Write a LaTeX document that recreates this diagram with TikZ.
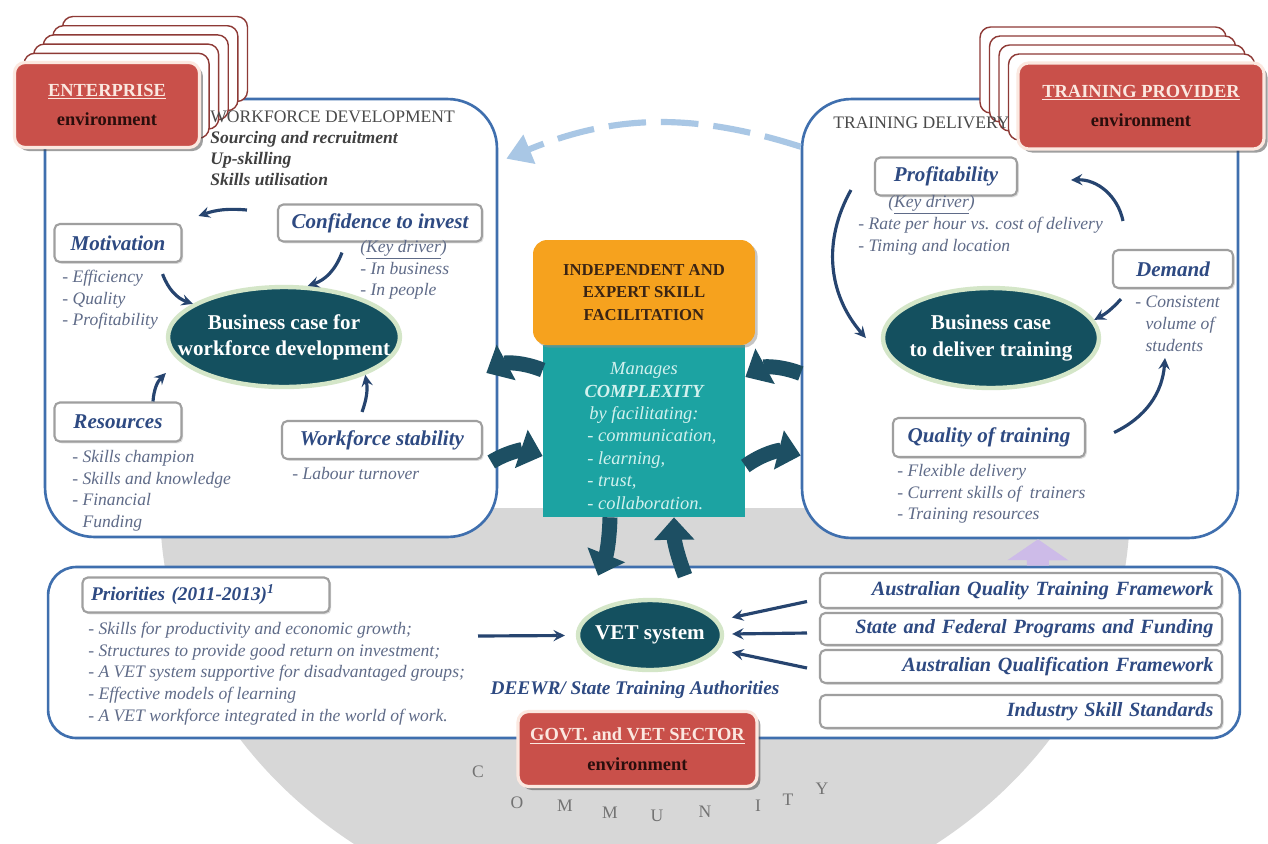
\documentclass[tikz,border=0pt]{standalone}
\usepackage{fontspec}
\setmainfont{Liberation Serif}
\usetikzlibrary{shapes,arrows,arrows.meta,positioning,shadows}

\definecolor{panelblue}{HTML}{3F6FAE}
\definecolor{boxblue}{HTML}{2E4A82}
\definecolor{notegrey}{HTML}{5F6B88}
\definecolor{flowblue}{HTML}{26446F}
\definecolor{casefill}{HTML}{14505F}
\definecolor{caseedge}{HTML}{D4E6C8}
\definecolor{envred}{HTML}{C9504A}
\definecolor{envrim}{HTML}{FBE8E0}
\definecolor{envdark}{HTML}{2A0E0C}
\definecolor{cardrim}{HTML}{8E3A36}
\definecolor{facilorange}{HTML}{F6A21E}
\definecolor{facildark}{HTML}{3A2414}
\definecolor{manageteal}{HTML}{1CA3A2}
\definecolor{managetext}{HTML}{D2F1EE}
\definecolor{bigteal}{HTML}{1D4F63}
\definecolor{commgrey}{HTML}{D7D7D7}
\definecolor{arcblue}{HTML}{A9C7E5}
\definecolor{lilac}{HTML}{CDBBE8}
\definecolor{headgrey}{HTML}{4A4A4A}

\newcommand{\fsz}[2]{\fontsize{#1}{#2}\selectfont}

\begin{document}
\begin{tikzpicture}[x=0.02cm, y=-0.02cm,
  panel/.style={draw=panelblue, fill=white, line width=1.5pt, rounded corners=28pt},
  factor/.style={draw=gray!75, fill=white, line width=1.2pt, rounded corners=3pt, text=boxblue,
    font=\bfseries\itshape\fsz{12}{14}, inner sep=2pt,
    drop shadow={shadow xshift=1pt, shadow yshift=-1pt, fill=black!25}},
  frame/.style={factor, font=\bfseries\itshape\fsz{11.5}{14}, minimum width=8.04cm, text width=7.7cm, align=right},
  note/.style={anchor=north west, align=left, text=notegrey, font=\itshape\fsz{10}{12.3}, inner sep=0pt},
  bcase/.style={ellipse, fill=casefill, draw=caseedge, line width=2.5pt, text=white,
    font=\bfseries\fsz{12}{15}, align=center, inner xsep=-0.7cm, inner ysep=-0.35cm},
  envbox/.style={fill=envred, draw=envrim, line width=1.8pt, rounded corners=6pt, align=center,
    font=\bfseries\fsz{10.5}{17}, drop shadow={shadow xshift=2pt, shadow yshift=-2pt, fill=black!75}},
  card/.style={fill=white, draw=cardrim, line width=0.8pt, rounded corners=6pt},
  heading/.style={anchor=west, text=headgrey, font=\fsz{10}{12}, inner sep=0pt},
  flow/.style={->, >=stealth, line width=1.8pt, draw=flowblue},
  bigarrow/.style={-{Triangle[length=0.45cm, width=0.78cm]}, line width=0.3cm, draw=bigteal},
]
\useasboundingbox (0,0) rectangle (1268,843);
\fill[white] (0,0) rectangle (1268,843);

\begin{scope}
  \clip (0,508) rectangle (1268,843);
  \fill[commgrey] (645,508) ellipse [x radius=9.7cm, y radius=8.4cm];
\end{scope}

\foreach \ch/\px/\py in {C/478/772, O/517/803, M/565/806, M/610/813, U/657/816, N/705/812, I/758/806, T/788/800, Y/822/789}
  \node[text=black!55, font=\fsz{10}{12}] (comm-\px) at (\px,\py) {\ch};

\node[panel, minimum width=9.04cm, minimum height=8.76cm] (lpanel) at (271,318) {};
\node[panel, minimum width=8.72cm, minimum height=8.78cm] (rpanel) at (1020,318.5) {};
\node[panel, rounded corners=16pt, minimum width=23.84cm, minimum height=3.42cm] (bpanel) at (644,652.5) {};

\foreach \k in {5,4,3,2,1}
  \node[card, minimum width=3.7cm, minimum height=1.7cm] (ecard\k) at ({107+9.6*\k},{105-9.2*\k}) {};
\node[envbox, minimum width=3.7cm, minimum height=1.7cm] (ent) at (107,105)
  {\textcolor{envrim}{\underline{ENTERPRISE}}\\\textcolor{envdark}{environment}};

\foreach \k in {4,3,2,1}
  \node[card, minimum width=4.92cm, minimum height=1.72cm] (pcard\k) at ({1141-9.5*\k},{106-9*\k}) {};
\node[envbox, minimum width=4.92cm, minimum height=1.72cm] (prov) at (1141,106)
  {\textcolor{envrim}{\underline{TRAINING PROVIDER}}\\\textcolor{envdark}{environment}};

\node[heading] (wdhead) at (210,117) {WORKFORCE DEVELOPMENT};
\node[note, text=black!75, font=\bfseries\itshape\fsz{10}{12}] (wdlist) at (210,131)
  {Sourcing and recruitment\\Up-skilling\\Skills utilisation};
\node[factor, minimum width=4.08cm, minimum height=0.74cm] (conf) at (380,223) {Confidence to invest};
\node[note] (confnote) at (360,240) {(\underline{Key driver})\\- In business\\- In people};
\node[factor, minimum width=2.54cm, minimum height=0.76cm] (motiv) at (118,243) {Motivation};
\node[note] (motivnote) at (62,270) {- Efficiency\\- Quality\\- Profitability};
\node[bcase, minimum width=4.64cm, minimum height=2cm] (lcase) at (284,337) {Business case for\\workforce development};
\node[factor, minimum width=2.54cm, minimum height=0.78cm] (res) at (118,422) {Resources};
\node[note] (resnote) at (72,450) {- Skills champion\\- Skills and knowledge\\- Financial\\\phantom{- }Funding};
\node[factor, minimum width=4cm, minimum height=0.76cm] (stab) at (382,440) {Workforce stability};
\node[note] (stabnote) at (292,467) {- Labour turnover};

\node[heading] (tdhead) at (833,123) {TRAINING DELIVERY};
\node[factor, minimum width=2.84cm, minimum height=0.76cm] (prof) at (946,176.5) {Profitability};
\node[note] (profkey) at (888,195) {(\underline{Key driver})};
\node[note] (profnote) at (858,217) {- Rate per hour vs. cost of delivery\\- Timing and location};
\node[factor, minimum width=2.4cm, minimum height=0.76cm] (dem) at (1173,269) {Demand};
\node[note] (demnote) at (1135,296) {- Consistent\\\phantom{- }volume of\\\phantom{- }students};
\node[bcase, minimum width=4.32cm, minimum height=2cm] (rcase) at (991,338) {Business case\\to deliver training};
\node[factor, minimum width=3.84cm, minimum height=0.78cm] (qual) at (989,437.5) {Quality of training};
\node[note] (qualnote) at (897,464) {- Flexible delivery\\- Current skills of\ \ trainers\\- Training resources};

\node[fill=manageteal, minimum width=4.04cm, minimum height=3.44cm] (manage) at (644,431) {};
\node[align=center, text=managetext, font=\itshape\fsz{10.5}{12.8}] (mtop) at (644,393)
  {Manages\\\textbf{COMPLEXITY}\\by facilitating:};
\node[note, text=managetext, font=\itshape\fsz{10.5}{12.8}] (mlist) at (587,429)
  {- communication,\\- learning,\\- trust,\\- collaboration.};
\node[fill=facilorange, rounded corners=8pt, minimum width=4.44cm, minimum height=2.1cm, align=center,
  font=\bfseries\fsz{9.5}{12.8}, text=facildark,
  drop shadow={shadow xshift=1.5pt, shadow yshift=-1.5pt, fill=black!45}] (facil) at (644,292.5)
  {INDEPENDENT AND\\EXPERT SKILL\\FACILITATION};

\node[factor, font=\bfseries\itshape\fsz{11}{13}, minimum width=4.94cm, minimum height=0.7cm, text width=4.6cm, align=left] (prio) at (206,595)
  {Priorities (2011-2013)\textsuperscript{1}};
\node[note] (prionote) at (88,622) {- Skills for productivity and economic growth;\\- Structures to provide good return on investment;\\- A VET system supportive for disadvantaged groups;\\- Effective models of learning\\- A VET workforce integrated in the world of work.};
\node[bcase, minimum width=2.88cm, minimum height=1.4cm] (vet) at (650,635) {VET system};
\node[text=boxblue, font=\bfseries\itshape\fsz{11}{13}] (deewr) at (635,690) {DEEWR/ State Training Authorities};
\node[frame, minimum height=0.7cm] (aqtf) at (1021,590.5) {Australian Quality Training Framework};
\node[frame, minimum height=0.64cm] (sfp) at (1021,629) {State and Federal Programs and Funding};
\node[frame, minimum height=0.66cm] (aqf) at (1021,666.5) {Australian Qualification Framework};
\node[frame, minimum height=0.66cm] (iss) at (1021,711.5) {Industry Skill Standards};
\node[envbox, minimum width=4.78cm, minimum height=1.5cm] (govt) at (637.5,749)
  {\textcolor{envrim}{\underline{GOVT. and VET SECTOR}}\\\textcolor{envdark}{environment}};

\coordinate (priotip) at (478,636);

\draw[flow] ([xshift=-0.6cm,yshift=0.26cm]conf.west) to[bend right=12] ([xshift=0.32cm,yshift=0.14cm]motiv.north east);
\draw[flow] ([xshift=-0.76cm,yshift=-0.2cm]conf.south) to[bend left=25] (lcase.65);
\draw[flow] ([xshift=-0.4cm,yshift=-0.22cm]motiv.south east) to[bend right=25] (lcase.160);
\draw[flow] ([xshift=0.7cm]res.north) to[bend left=20] ([yshift=-0.72cm]lcase.west);
\draw[flow] ([xshift=-0.4cm,yshift=0.16cm]stab.north) to[bend right=15] (lcase.-25);

\draw[flow] ([xshift=-0.46cm,yshift=-0.27cm]prof.west) to[bend right=35] ([xshift=-0.3cm]rcase.west);
\draw[flow] ([xshift=-1cm,yshift=0.56cm]dem.north) to[bend right=40] ([xshift=1.06cm,yshift=-0.07cm]prof.east);
\draw[flow] ([xshift=0.18cm,yshift=-0.2cm]dem.south west) to[bend left=10] (rcase.10);
\draw[flow] ([xshift=0.56cm,yshift=0.1cm]qual.east) to[bend right=30] ([xshift=-0.16cm,yshift=-1.38cm]dem.south);

\draw[flow, shorten >=0.22cm] (priotip) -- (vet);
\draw[flow, shorten >=0.28cm] ([xshift=-0.24cm,yshift=-0.22cm]aqtf.west) -- (vet);
\draw[flow, shorten >=0.16cm] ([xshift=-0.24cm,yshift=-0.08cm]sfp.west) -- (vet);
\draw[flow, shorten >=0.28cm] ([xshift=-0.24cm,yshift=-0.03cm]aqf.west) -- (vet);

\draw[bigarrow] ([yshift=1.22cm]manage.west) to[bend right=25] ([xshift=-0.24cm,yshift=-1.1cm]lpanel.east);
\draw[bigarrow] ([xshift=-0.14cm,yshift=-2.88cm]lpanel.east) to[bend left=25] ([yshift=-0.5cm]manage.west);
\draw[bigarrow] ([yshift=-1.1cm]rpanel.west) to[bend right=25] ([yshift=1.08cm]manage.east);
\draw[bigarrow] ([yshift=-0.7cm]manage.east) to[bend left=25] ([yshift=-2.74cm]rpanel.west);
\draw[bigarrow] ([xshift=-0.68cm]manage.south) to[bend left=10] ([xshift=-0.92cm,yshift=-0.2cm]bpanel.north);
\draw[bigarrow] ([xshift=0.82cm,yshift=-0.2cm]bpanel.north) to[bend left=10] ([xshift=0.6cm]manage.south);

\draw[arcblue, line width=3.5pt, dash pattern=on 0.75cm off 0.3cm, -{Triangle[length=0.5cm,width=0.6cm]}]
  ([yshift=-0.98cm]rpanel.north west) to[bend right=20] ([xshift=0.16cm,yshift=-1.22cm]lpanel.north east);
\draw[lilac, line width=0.44cm, -{Triangle[length=0.42cm,width=1.2cm]}]
  ([xshift=7.88cm]bpanel.north) -- ([xshift=0.36cm]rpanel.south);
\end{tikzpicture}
\end{document}
